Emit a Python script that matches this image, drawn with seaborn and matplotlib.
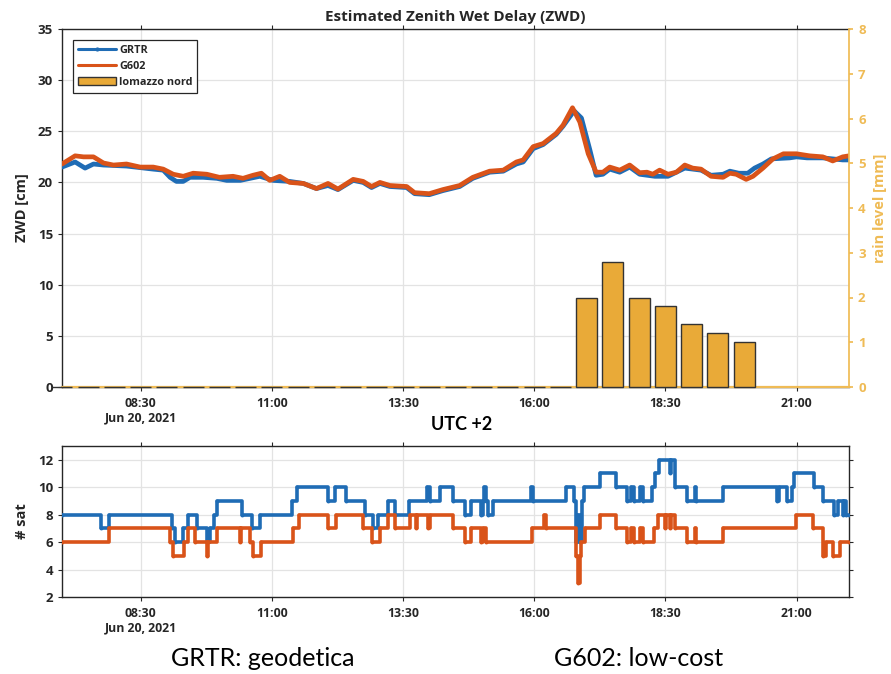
import matplotlib
matplotlib.use("Agg")
import matplotlib.pyplot as plt
from matplotlib.lines import Line2D
from matplotlib.patches import Patch
import numpy as np
import pandas as pd
import seaborn as sns

# ---------------- data (time in decimal hours, UTC+2, Jun 20 2021) ----------------
zwd_grtr_t = [7.0, 7.25, 7.44, 7.6, 7.79, 8.23, 8.74, 8.93, 9.06, 9.18, 9.31, 9.44, 9.69, 9.95,
              10.14, 10.4, 10.77, 11.02, 11.34, 11.6, 11.85, 12.07, 12.26, 12.55, 12.74, 12.9,
              13.06, 13.25, 13.57, 13.72, 14.0, 14.26, 14.58, 14.83, 15.15, 15.41, 15.66, 15.79,
              15.98, 16.17, 16.42, 16.55, 16.76, 16.9, 17.06, 17.18, 17.31, 17.44, 17.63, 17.82,
              18.01, 18.3, 18.55, 18.87, 19.18, 19.37, 19.6, 19.73, 19.9, 20.07, 20.2, 20.36,
              20.52, 20.87, 21.0, 21.2, 21.5, 21.69, 21.88, 22.0]
zwd_grtr_v = [21.5, 22.0, 21.4, 21.8, 21.7, 21.6, 21.3, 21.2, 20.5, 20.1, 20.1, 20.5, 20.5, 20.4,
              20.2, 20.2, 20.6, 20.2, 20.1, 19.9, 19.4, 19.7, 19.3, 20.2, 20.0, 19.5,
              19.9, 19.6, 19.5, 18.9, 18.8, 19.2, 19.6, 20.4, 21.0, 21.1, 21.8, 22.0,
              23.3, 23.7, 24.7, 25.5, 27.0, 26.3, 23.2, 20.7, 20.8, 21.3, 21.0, 21.5,
              20.8, 20.6, 20.6, 21.4, 21.2, 20.7, 20.8, 21.1, 20.9, 20.9, 21.4, 21.8,
              22.3, 22.4, 22.5, 22.4, 22.4, 22.3, 22.2, 22.2]

zwd_g602_t = [7.0, 7.25, 7.41, 7.6, 7.79, 7.98, 8.23, 8.49, 8.74, 8.93, 9.12, 9.31, 9.5, 9.76,
              10.0, 10.26, 10.45, 10.64, 10.8, 10.96, 11.15, 11.34, 11.6, 11.85, 12.07, 12.26,
              12.55, 12.74, 12.9, 13.06, 13.25, 13.57, 13.72, 14.0, 14.26, 14.58, 14.83, 15.15,
              15.41, 15.66, 15.79, 15.98, 16.17, 16.42, 16.55, 16.73, 16.87, 17.03, 17.18, 17.31,
              17.44, 17.63, 17.82, 18.01, 18.15, 18.26, 18.39, 18.55, 18.71, 18.87, 19.02, 19.18,
              19.37, 19.6, 19.73, 19.85, 20.04, 20.17, 20.36, 20.55, 20.75, 21.0, 21.25, 21.5,
              21.69, 21.88, 22.0]
zwd_g602_v = [21.8, 22.6, 22.5, 22.5, 21.9, 21.7, 21.8, 21.5, 21.5, 21.3, 20.8, 20.6, 20.9, 20.8,
              20.5, 20.6, 20.4, 20.7, 20.9, 20.2, 20.6, 20.0, 19.9, 19.4, 19.9, 19.35,
              20.3, 20.1, 19.6, 20.0, 19.7, 19.6, 19.0, 18.9, 19.3, 19.7, 20.5, 21.1,
              21.2, 22.0, 22.2, 23.5, 23.8, 24.8, 25.6, 27.3, 25.9, 22.8, 21.0, 21.0,
              21.5, 21.2, 21.7, 20.95, 21.0, 20.8, 21.2, 20.8, 21.0, 21.7, 21.4, 21.3,
              20.6, 20.5, 20.9, 20.8, 20.3, 20.6, 21.4, 22.3, 22.8, 22.8, 22.6, 22.5,
              22.1, 22.5, 22.6]

rain_t = [7.0, 7.5, 8.0, 8.5, 9.0, 9.5, 10.0, 10.5, 11.0, 11.5, 12.0, 12.5, 13.0, 13.5,
          14.0, 14.5, 15.0, 15.5, 16.0, 16.5, 17.0, 17.5, 18.0, 18.5, 19.0, 19.5, 20.0]
rain_v = [0, 0, 0, 0, 0, 0, 0, 0, 0, 0, 0, 0, 0, 0,
          0, 0, 0, 0, 0, 0, 2.0, 2.8, 2.0, 1.8, 1.4, 1.2, 1.0]

sat_grtr_t = [7.0, 7.74, 7.9, 9.09, 9.15, 9.30, 9.41, 9.57, 9.77, 9.82, 9.90, 9.96, 10.44,
              10.63, 10.77, 11.39, 11.48, 12.07, 12.2, 12.42, 12.77, 12.93, 13.03, 13.22,
              13.34, 13.62, 13.95, 14.02, 14.2, 14.45, 14.69, 14.80, 14.99, 15.02, 15.05,
              15.09, 15.11, 15.22, 15.93, 15.98, 16.61, 16.75, 16.80, 16.83, 16.88, 16.91,
              16.94, 17.25, 17.56, 17.76, 17.85, 17.91, 18.02, 18.07, 18.25, 18.31, 18.38,
              18.58, 18.61, 18.69, 18.91, 19.06, 19.09, 19.60, 20.63, 20.66, 20.82, 20.92,
              20.96, 21.34, 21.50, 21.72, 21.79, 21.88, 21.91, 21.95, 22.0]
sat_grtr_n = [8, 7, 8, 7, 6, 7, 8, 7, 6, 7, 8, 9, 8,
              7, 8, 9, 10, 9, 10, 9, 8, 7, 8, 9,
              8, 9, 10, 9, 10, 9, 8, 9, 8, 9, 10,
              9, 8, 9, 10, 9, 10, 9, 6, 8, 6, 9,
              10, 11, 10, 9, 10, 9, 10, 9, 10, 11, 12,
              11, 12, 10, 9, 10, 9, 10, 9, 10, 9, 10,
              11, 10, 9, 8, 9, 8, 9, 8, 8]

sat_g602_t = [7.0, 7.90, 9.06, 9.12, 9.32, 9.41, 9.53, 9.76, 9.79, 9.95, 10.39, 10.42, 10.59,
              10.64, 10.80, 11.41, 11.52, 12.07, 12.22, 12.74, 12.90, 13.07, 13.22, 13.34,
              13.63, 13.74, 13.77, 13.98, 14.01, 14.45, 14.69, 14.80, 14.99, 15.02, 15.09,
              15.95, 16.19, 16.23, 16.80, 16.83, 16.87, 16.90, 16.96, 17.25, 17.56, 17.76,
              17.85, 17.91, 18.02, 18.07, 18.29, 18.36, 18.49, 18.52, 18.58, 18.61, 18.69,
              18.91, 19.06, 19.09, 19.60, 20.99, 21.31, 21.51, 21.56, 21.69, 21.83, 22.0]
sat_g602_n = [6, 7, 6, 5, 6, 7, 6, 5, 6, 7, 6, 7, 6,
              5, 6, 7, 8, 7, 8, 7, 6, 7, 8, 7,
              8, 7, 8, 7, 8, 7, 6, 7, 6, 7, 6,
              7, 8, 7, 5, 3, 5, 6, 7, 8, 7, 6,
              7, 6, 7, 6, 7, 8, 7, 8, 7, 8, 7,
              6, 7, 6, 7, 8, 7, 5, 6, 5, 6, 6]

xtick_pos = [8.5, 11.0, 13.5, 16.0, 18.5, 21.0]
xtick_lbl = ["08:30\nJun 20, 2021", "11:00", "13:30", "16:00", "18:30", "21:00"]

# ---------------- style ----------------
sns.set_theme(style="ticks")
plt.rcParams["font.family"] = ["Open Sans", "DejaVu Sans"]

BLUE = "#1f6cb5"
ORANGE = "#d95319"
BAR = "#e9aa38"
RAXIS = "#efbb55"
TXT = "#262626"
GRID = "#e3e3e3"

fig = plt.figure(figsize=(8.91, 6.74), dpi=100)
ax1 = fig.add_axes([62 / 891, 1 - 387 / 674, 787 / 891, 358 / 674])
ax2 = fig.add_axes([62 / 891, 1 - 597 / 674, 787 / 891, 151 / 674])

df_g = pd.DataFrame({"t": zwd_grtr_t, "zwd": zwd_grtr_v})
df_o = pd.DataFrame({"t": zwd_g602_t, "zwd": zwd_g602_v})
sns.lineplot(data=df_g, x="t", y="zwd", ax=ax1, color=BLUE, lw=3.4, zorder=3)
sns.lineplot(data=df_o, x="t", y="zwd", ax=ax1, color=ORANGE, lw=3.4, zorder=4)

# rain bars on the right axis
axr = ax1.twinx()
axr.axhline(0, color=RAXIS, lw=1.6, zorder=3, clip_on=False)
axr.bar(rain_t, rain_v, width=0.4, color=BAR, edgecolor="#333333", lw=1.0,
        zorder=4, clip_on=False)
axr.set_ylim(0, 8)
axr.set_yticks(range(0, 9))
axr.tick_params(axis="y", colors=RAXIS, labelsize=9.5, direction="out", length=3)
for lbl in axr.get_yticklabels():
    lbl.set_fontweight("bold")
axr.set_ylabel("rain level [mm]", color=RAXIS, fontsize=10.5, fontweight="bold", labelpad=5)
for s in ["top", "bottom", "left"]:
    axr.spines[s].set_visible(False)
axr.spines["right"].set_color(RAXIS)

ax1.set_xlim(7, 22)
ax1.set_ylim(0, 35)
ax1.set_yticks(range(0, 36, 5))
ax1.set_ylabel("ZWD [cm]", fontsize=10.5, fontweight="bold", color=TXT, labelpad=6)
ax1.set_xlabel("")
ax1.set_title("Estimated Zenith Wet Delay (ZWD)", fontsize=11, fontweight="bold",
              color=TXT, pad=6)
ax1.spines["right"].set_visible(False)

# satellites
df_sg = pd.DataFrame({"t": sat_grtr_t, "n": sat_grtr_n})
df_so = pd.DataFrame({"t": sat_g602_t, "n": sat_g602_n})
sns.lineplot(data=df_sg, x="t", y="n", ax=ax2, color=BLUE, lw=2.6, drawstyle="steps-post",
             marker="o", markersize=2.8, markeredgewidth=0, zorder=3)
sns.lineplot(data=df_so, x="t", y="n", ax=ax2, color=ORANGE, lw=2.6, drawstyle="steps-post",
             marker="o", markersize=2.8, markeredgewidth=0, zorder=4)
ax2.set_xlim(7, 22)
ax2.set_ylim(2, 13)
ax2.set_yticks(range(2, 13, 2))
ax2.set_ylabel("# sat", fontsize=10.5, fontweight="bold", color=TXT, labelpad=6)
ax2.set_xlabel("")

for ax in (ax1, ax2):
    ax.set_xticks(xtick_pos)
    ax.set_xticklabels(xtick_lbl)
    ax.grid(True, color=GRID, lw=0.9, zorder=0)
    ax.set_axisbelow(True)
    ax.tick_params(axis="both", colors=TXT, labelsize=9.5, direction="out", length=3,
                   width=0.8, top=True)
    ax.tick_params(axis="x", labelsize=8.8, pad=4)
    for lbl in ax.get_xticklabels() + ax.get_yticklabels():
        lbl.set_fontweight("bold")
    for s in ax.spines.values():
        s.set_color(TXT)
        s.set_linewidth(1.0)
ax2.tick_params(axis="y", right=True)
ax2.spines["right"].set_visible(True)

# legend
handles = [Line2D([], [], color=BLUE, lw=2.2, marker=".", markersize=4),
           Line2D([], [], color=ORANGE, lw=2.2),
           Patch(facecolor=BAR, edgecolor="#333333", lw=1.0)]
leg = ax1.legend(handles, ["GRTR", "G602", "lomazzo nord"], loc="upper left",
                 bbox_to_anchor=(11 / 787, 1 - 11 / 358), fontsize=7.8, frameon=True,
                 fancybox=False, edgecolor=TXT, framealpha=1, handlelength=3.5,
                 borderpad=0.45, labelspacing=0.45, handletextpad=0.3, borderaxespad=0)
leg.get_frame().set_linewidth(0.9)
for t in leg.get_texts():
    t.set_fontweight("bold")
    t.set_color(TXT)
leg.set_zorder(10)

# captions
fig.text(462 / 891, 1 - 424 / 674, "UTC +2", fontsize=13, fontweight="bold",
         family=["Lato", "DejaVu Sans"], ha="center", va="center", color="black")
fig.text(263 / 891, 1 - 659 / 674, "GRTR: geodetica", fontsize=18,
         family=["Lato", "DejaVu Sans"], ha="center", va="center", color="black")
fig.text(639 / 891, 1 - 659 / 674, "G602: low-cost", fontsize=18,
         family=["Lato", "DejaVu Sans"], ha="center", va="center", color="black")

fig.savefig("out.png", dpi=100, facecolor="white")
